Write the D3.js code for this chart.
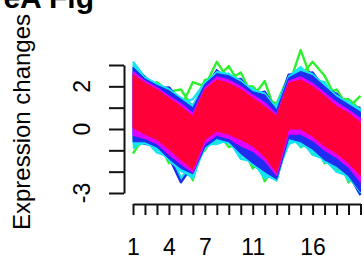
<!DOCTYPE html>
<html>
<head>
<meta charset="utf-8">
<script src="https://cdn.jsdelivr.net/npm/d3@7"></script>
<style>
  body { margin: 0; background: #fff; }
  text { font-family: "Liberation Sans", Arial, sans-serif; fill: #000; }
</style>
</head>
<body>
<div id="chart"></div>
<script>
// time points
var times = [1, 2, 3, 4, 5, 6, 7, 8, 9, 10, 11, 12, 13, 14, 15, 16, 17, 18, 19, 20];
var xLabels = [1, 4, 7, 11, 16];
var yTicks = [-3, -2, -1, 0, 1, 2, 3];
var yLabels = [-3, 0, 2];

// low-membership profiles (outer spikes)
var green1 = [2.6, 2.0, 1.7, 1.3, 1.0, 2.2, 2.0, 3.15, 2.3, 2.65, 1.5, 2.25, 0.6, 2.0, 3.7, 2.2, 1.6, 1.85, 1.0, 1.55];
var green2 = [2.2, 1.9, 2.2, 1.75, 1.85, 1.0, 2.3, 2.4, 2.95, 2.0, 2.0, 1.4, 1.2, 2.5, 2.5, 3.15, 2.5, 1.4, 1.4, 0.9];
var green3 = [-1.15, -0.3, -1.0, -0.9, -2.35, -1.5, -1.0, -0.1, -0.85, -0.6, -1.85, -1.2, -2.4, -0.1, -0.85, -0.5, -1.6, -1.1, -2.5, -1.9];
var green4 = [-0.8, -0.65, -0.4, -1.6, -1.2, -2.4, -0.3, -0.5, -0.2, -1.3, -0.9, -2.45, -1.5, -0.7, -0.2, -1.2, -0.9, -2.0, -1.4, -2.9];
var cyan1 = [3.15, 2.4, 1.7, 1.65, 1.2, 1.4, 2.15, 2.3, 2.6, 2.0, 1.9, 1.3, 1.1, 2.45, 2.9, 2.3, 2.2, 1.3, 1.3, 0.6];
var cyan2 = [-0.5, -0.4, -0.95, -1.1, -2.3, -1.7, -0.6, -0.6, -0.4, -1.25, -1.3, -2.2, -1.9, -0.3, -0.8, -0.8, -1.55, -1.5, -2.4, -2.3];
var cyan3 = [-0.9, -0.5, -1.1, -1.3, -1.9, -2.3, -0.7, -0.7, -0.5, -1.4, -1.5, -2.3, -2.1, -0.7, -0.5, -1.2, -1.4, -2.0, -2.2, -2.7];
var blue1 = [-0.4, -0.7, -0.8, -1.3, -2.5, -1.7, -0.8, -0.4, -0.5, -1.0, -1.5, -1.9, -2.3, -0.4, -0.5, -0.9, -1.4, -1.7, -2.1, -3.1];
var blue2 = [2.8, 2.45, 1.9, 1.95, 1.3, 1.1, 1.9, 2.75, 2.3, 2.35, 1.6, 1.75, 0.8, 2.55, 2.6, 2.65, 1.9, 1.65, 1.0, 1.0];

// envelopes of the higher-membership profiles
var cyanHi = [3.05, 2.45, 2.15, 1.9, 1.5, 1.15, 2.2, 2.7, 2.6, 2.3, 1.85, 1.7, 1.0, 2.5, 2.8, 2.6, 2.1, 1.6, 1.25, 0.95];
var cyanLo = [-0.75, -0.7, -0.95, -1.5, -2.0, -2.25, -0.95, -0.55, -0.7, -1.25, -1.7, -2.15, -2.45, -0.55, -0.7, -1.05, -1.55, -1.85, -2.3, -3.0];
var blueHi = [2.9, 2.35, 2.05, 1.8, 1.4, 1.0, 2.1, 2.6, 2.5, 2.2, 1.75, 1.6, 0.9, 2.4, 2.7, 2.5, 2.0, 1.5, 1.15, 0.8];
var blueLo = [-0.6, -0.6, -0.85, -1.4, -1.85, -2.1, -0.85, -0.45, -0.6, -1.15, -1.6, -2.0, -2.35, -0.45, -0.6, -0.95, -1.45, -1.75, -2.2, -2.95];
var magHi = [2.7, 2.25, 1.95, 1.55, 1.2, 0.75, 1.95, 2.45, 2.3, 2.0, 1.6, 1.25, 0.7, 2.25, 2.45, 2.15, 1.7, 1.25, 0.9, 0.5];
var magLo = [-0.3, -0.45, -0.7, -1.2, -1.65, -2.05, -0.7, -0.3, -0.45, -0.8, -1.05, -1.5, -2.2, -0.25, -0.25, -0.55, -1.0, -1.35, -1.8, -2.5];
var redHi = [2.55, 2.15, 1.85, 1.45, 1.05, 0.6, 1.85, 2.3, 2.15, 1.85, 1.45, 1.05, 0.6, 2.15, 2.3, 2.0, 1.55, 1.05, 0.75, 0.3];
var redLo = [0.05, -0.25, -0.5, -0.95, -1.45, -1.9, -0.5, -0.1, -0.25, -0.5, -0.8, -1.3, -2.05, 0.0, 0.0, -0.35, -0.8, -1.15, -1.6, -2.2];

var spikeLines = [
  {color: "#2ef02e", values: green1}, {color: "#2ef02e", values: green2},
  {color: "#2ef02e", values: green3}, {color: "#2ef02e", values: green4},
  {color: "#14e4f2", values: cyan1}, {color: "#14e4f2", values: cyan2},
  {color: "#14e4f2", values: cyan3},
  {color: "#1e2df0", values: blue1}, {color: "#1e2df0", values: blue2}
];
var bands = [
  {color: "#14e4f2", hi: cyanHi, lo: cyanLo},
  {color: "#1e2df0", hi: blueHi, lo: blueLo},
  {color: "#e000ff", hi: magHi, lo: magLo},
  {color: "#ff0038", hi: redHi, lo: redLo}
];

var W = 364, H = 259;

var svg = d3.select("#chart")
            .append("svg")
            .attr("width", W)
            .attr("height", H);

var x = d3.scaleLinear().domain([1, 20]).range([133, 360.5]);
var y = d3.scaleLinear().domain([-3, 3]).range([193, 65]);

var line = d3.line()
             .x((d, i) => x(times[i]))
             .y(d => y(d));

svg.selectAll(".spike")
   .data(spikeLines)
   .enter().append("path")
   .attr("class", "spike")
   .attr("d", l => line(l.values))
   .attr("fill", "none")
   .attr("stroke", l => l.color)
   .attr("stroke-width", 2.4)
   .attr("stroke-linejoin", "round");

var area = d3.area()
             .x((d, i) => x(times[i]))
             .y0(d => y(d[0]))
             .y1(d => y(d[1]));

svg.selectAll(".band")
   .data(bands)
   .enter().append("path")
   .attr("class", "band")
   .attr("d", l => area(l.lo.map((v, i) => [v, l.hi[i]])))
   .attr("fill", l => l.color)
   .attr("stroke", l => l.color)
   .attr("stroke-width", 1)
   .attr("stroke-linejoin", "round");

// x axis
var xAxis = d3.axisBottom(x)
              .tickValues(times)
              .tickSize(11)
              .tickSizeOuter(0)
              .tickPadding(24)
              .tickFormat(d => xLabels.indexOf(d) >= 0 ? d : "");

var gx = svg.append("g")
            .attr("transform", "translate(0,204)")
            .call(xAxis);
gx.selectAll("line, path").attr("stroke", "#111").attr("stroke-width", 2);
gx.selectAll("text").style("font-size", "23px").attr("fill", "#000");

// y axis
var yAxis = d3.axisLeft(y)
              .tickValues(yTicks)
              .tickSize(15)
              .tickSizeOuter(0)
              .tickFormat("");

var gy = svg.append("g")
            .attr("transform", "translate(124,0)")
            .call(yAxis);
gy.selectAll("line, path").attr("stroke", "#111").attr("stroke-width", 2);

svg.selectAll(".ylab")
   .data(yLabels)
   .enter().append("text")
   .attr("class", "ylab")
   .attr("transform", d => `translate(90,${y(d)}) rotate(-90)`)
   .attr("text-anchor", "middle")
   .style("font-size", "23px")
   .text(d => d);

// axis title
svg.append("text")
   .attr("transform", "translate(30,122) rotate(-90)")
   .attr("text-anchor", "middle")
   .style("font-size", "24px")
   .text("Expression changes");

// panel tag (cut by the top edge, as in the source figure)
svg.append("text")
   .attr("x", 94)
   .attr("y", 8)
   .attr("text-anchor", "end")
   .style("font-size", "30px")
   .style("font-weight", "bold")
   .text("eA Fig");
</script>
</body>
</html>
